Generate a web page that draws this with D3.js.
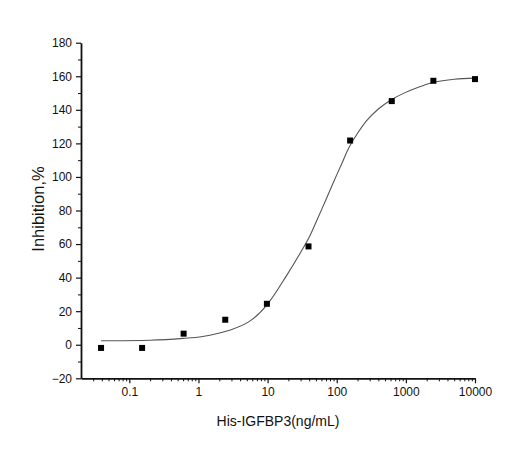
<!DOCTYPE html>
<html>
<head>
<meta charset="utf-8">
<script src="https://cdn.jsdelivr.net/npm/d3@7/dist/d3.min.js"></script>
<style>
  body { margin: 0; background: #fff; }
  svg text { font-family: "Liberation Sans", Arial, sans-serif; fill: #111; }
</style>
</head>
<body>
<div id="chart"></div>
<script>
// measured points (4-fold dilution series)
var concs = [0.039, 0.153, 0.61, 2.44, 9.77, 39.06, 156.25, 625, 2500, 10000];
var inhibition = [-1.9, -1.9, 6.6, 14.9, 24.4, 58.6, 121.7, 145.2, 157.3, 158.3];

// fitted curve
var fitX = [0.039, 0.2, 0.6, 1.1, 2.9, 5.6, 9.8, 19, 30, 41, 52, 70, 90, 120, 148, 200, 273, 400, 593, 922, 1515, 2500, 5000, 10000];
var fitY = [2.4, 2.7, 3.8, 4.8, 8.8, 14.2, 23.8, 41.5, 55, 65, 74.5, 86.5, 97, 108.5, 117, 126, 133.7, 140.5, 145.6, 149.8, 153.5, 156.3, 158.2, 158.9];

var xTicks = [0.1, 1, 10, 100, 1000, 10000];
var yTicks = [-20, 0, 20, 40, 60, 80, 100, 120, 140, 160, 180];

var width = 520, height = 464;

var svg = d3.select("#chart").append("svg")
	.attr("width", width)
	.attr("height", height);

var x = d3.scaleLog().domain([0.02, 10000]).range([81, 475]);
var y = d3.scaleLinear().domain([-20, 180]).range([378.3, 42.7]);

// minor ticks
var xMinor = [];
for (var e = -2; e < 4; e++) {
	for (var m = 1; m < 10; m++) {
		var v = m * Math.pow(10, e);
		if (v > 0.02 && v <= 10000 && m != 1) xMinor.push(v);
	}
}
var yMinor = [];
for (var t = -10; t < 180; t += 20) yMinor.push(t);

svg.append("g")
	.attr("transform", "translate(0," + y(-20) + ")")
	.call(d3.axisBottom(x).tickValues(xMinor).tickSize(3).tickFormat(""))
	.call(function(g) { g.select(".domain").remove(); })
	.selectAll("line").attr("stroke", "#111");

svg.append("g")
	.attr("transform", "translate(" + x(0.02) + ",0)")
	.call(d3.axisLeft(y).tickValues(yMinor).tickSize(3).tickFormat(""))
	.call(function(g) { g.select(".domain").remove(); })
	.selectAll("line").attr("stroke", "#111");

// major axes
var xAxis = svg.append("g")
	.attr("transform", "translate(0," + y(-20) + ")")
	.call(d3.axisBottom(x).tickValues(xTicks).tickSize(5).tickSizeOuter(0).tickPadding(4)
		.tickFormat(function(d) { return String(d); }));

var yAxis = svg.append("g")
	.attr("transform", "translate(" + x(0.02) + ",0)")
	.call(d3.axisLeft(y).tickValues(yTicks).tickSize(5).tickSizeOuter(0).tickPadding(4));

[xAxis, yAxis].forEach(function(a) {
	a.select(".domain").attr("stroke", "#111").attr("stroke-width", 1.8);
	a.selectAll(".tick line").attr("stroke", "#111").attr("stroke-width", 1.2);
	a.selectAll(".tick text").attr("font-size", "12px").attr("fill", "#111")
		.style("font-family", "'Liberation Sans', Arial, sans-serif");
});

// fitted curve
var fitData = fitX.map(function(d, i) { return { x: d, y: fitY[i] }; });
var line = d3.line()
	.x(function(d) { return x(d.x); })
	.y(function(d) { return y(d.y); })
	.curve(d3.curveCatmullRom.alpha(0.5));

svg.append("path")
	.datum(fitData)
	.attr("d", line)
	.attr("fill", "none")
	.attr("stroke", "#555")
	.attr("stroke-width", 1.1);

// points
var pts = concs.map(function(d, i) { return { x: d, y: inhibition[i] }; });
svg.selectAll(".pt")
	.data(pts)
	.enter().append("rect")
	.attr("class", "pt")
	.attr("x", function(d) { return x(d.x) - 3; })
	.attr("y", function(d) { return y(d.y) - 3; })
	.attr("width", 6)
	.attr("height", 6)
	.attr("fill", "#000");

// axis titles
svg.append("text")
	.attr("x", 278)
	.attr("y", 426)
	.attr("text-anchor", "middle")
	.attr("font-size", "14px")
	.text("His-IGFBP3(ng/mL)");

svg.append("text")
	.attr("transform", "translate(44,209) rotate(-90)")
	.attr("text-anchor", "middle")
	.attr("font-size", "16.5px")
	.text("Inhibition,%");
</script>
</body>
</html>
